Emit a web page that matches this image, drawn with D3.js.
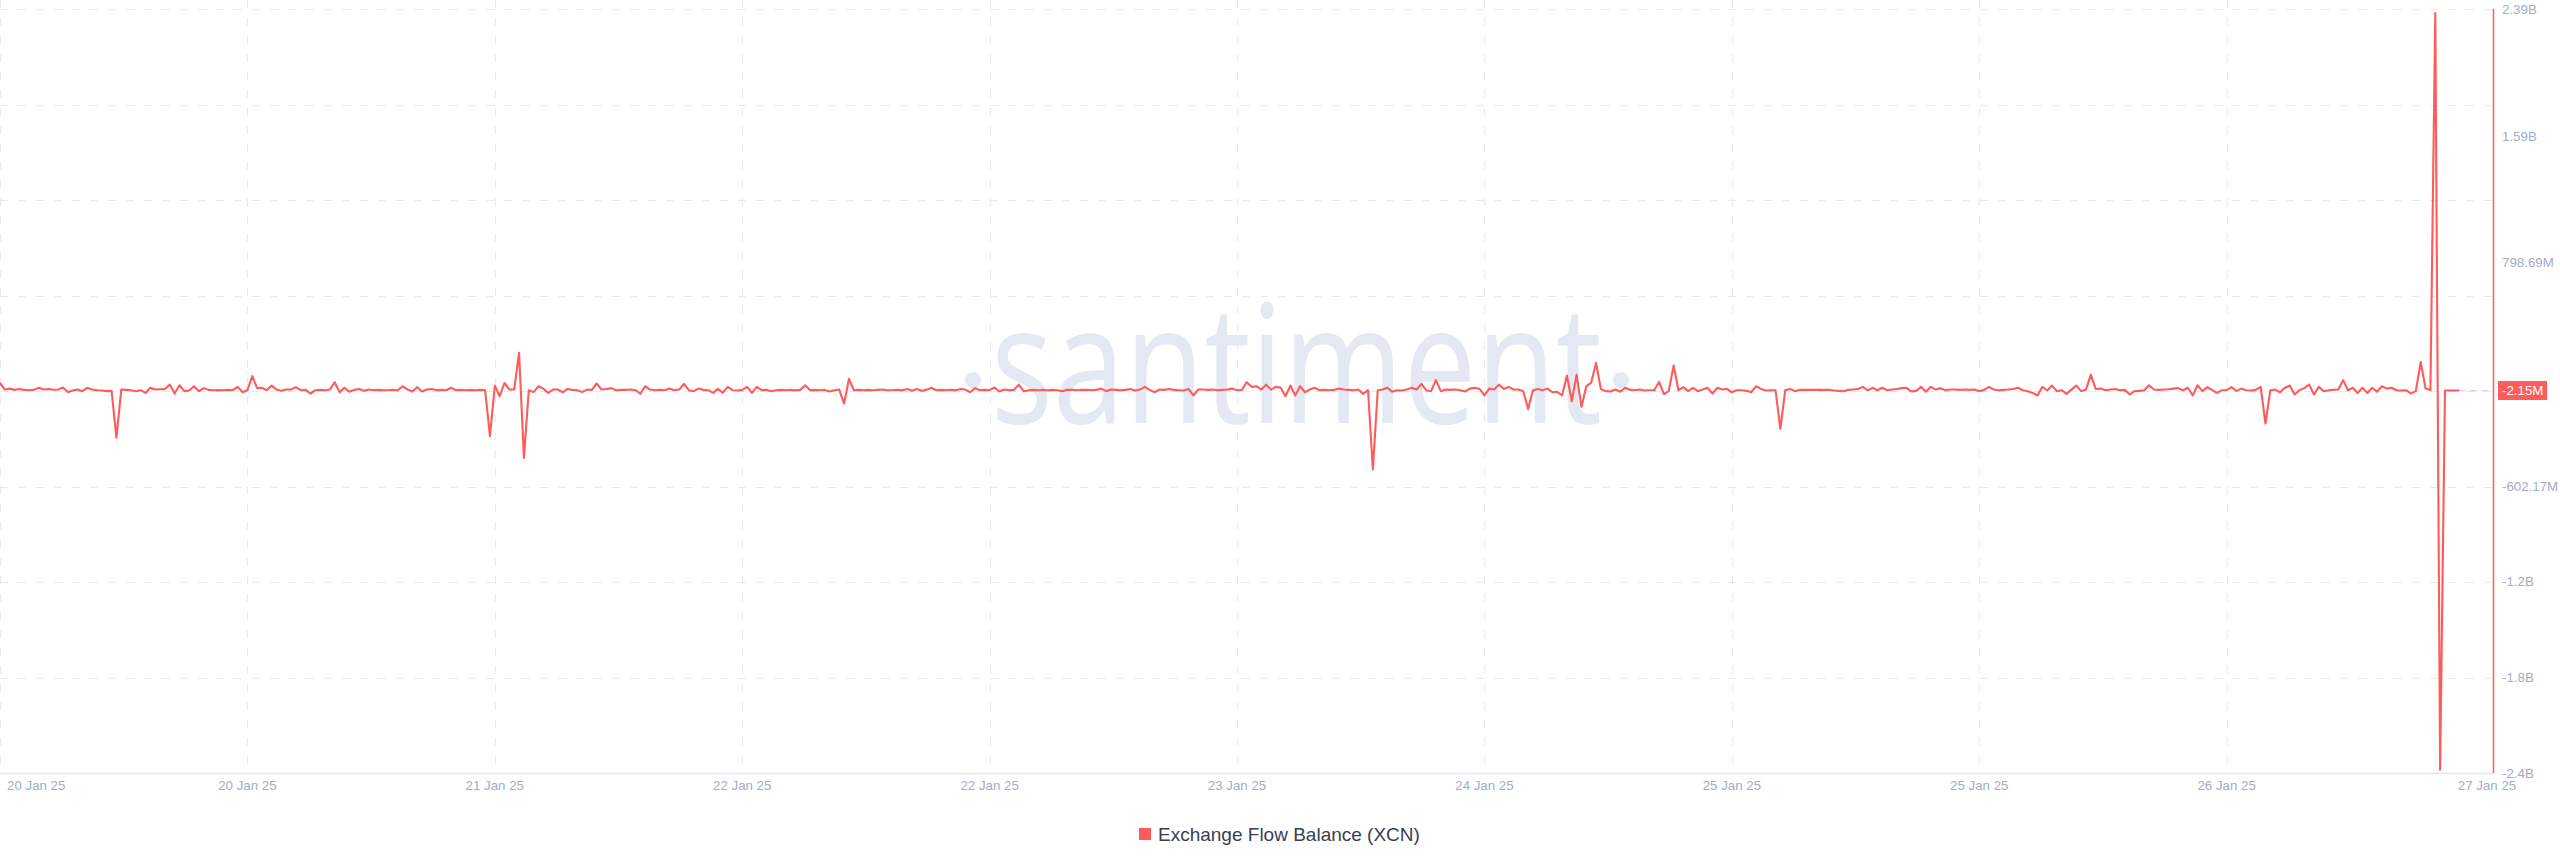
<!DOCTYPE html>
<html>
<head>
<meta charset="utf-8">
<script src="https://cdn.jsdelivr.net/npm/d3@7"></script>
<style>
  html, body { margin: 0; padding: 0; background: #fff; }
  #chart svg { display: block; }
</style>
</head>
<body>
<div id="chart"></div>
<script>
// ---- data ----

const seriesName = "Exchange Flow Balance (XCN)";
const startTime = "2025-01-20T02:00:00Z"; // first point
const stepMinutes = 20;                   // one point every 20 minutes
const endTime = "2025-01-27T05:18:00Z";   // right edge of the x axis

// exchange flow balance, in millions of XCN
const flowBalance = [
  46, 4, 10, 2, 8, 2, 0, 2, 15, 4,
  8, 3, 4, 17, -13, -2, 4, -6, 15, 4,
  0, -2, -6, -4, -297, 4, 2, 0, -6, 0,
  -17, 15, 4, 6, 8, 35, -21, 31, -6, -2,
  25, -6, 13, 2, 0, 1, 0, 2, 0, 21,
  -13, 0, 88, 13, 15, 0, 29, 4, -4, 4,
  4, 19, 0, 2, -21, 0, 2, 0, 4, 50,
  -13, 15, -10, 2, 8, -4, 4, 0, 2, 0,
  0, 2, 0, 25, 4, -8, 19, -8, 4, 8,
  0, 2, 0, 15, 0, 2, 0, 2, 0, 2,
  0, -288, 29, -38, 46, 4, 4, 234, -424, 0,
  -12, 25, 10, -17, 4, 4, -13, 8, 2, 0,
  -12, 4, 2, 42, 4, 8, 13, 0, 2, 2,
  4, 0, -21, 25, 4, 0, 2, 0, 10, 0,
  4, 40, 0, -6, 10, 2, 0, -17, 8, -17,
  21, 0, -2, 2, 21, -17, 21, 0, 2, -6,
  0, 2, 0, 2, 0, 2, 31, 0, 2, 0,
  2, -8, 0, 4, -84, 71, 0, 2, 0, 2,
  0, 2, 4, 0, 0, 2, 0, 8, -4, 8,
  -4, 2, 15, 0, 2, 0, 2, 0, 8, 4,
  -13, 13, 0, 2, 0, 17, -8, 4, 0, 2,
  35, -8, 0, 2, 0, 2, 0, 2, 0, -6,
  2, 2, 0, 2, 2, 0, 2, 10, -6, 4,
  2, 0, 2, 8, -2, 4, 21, 2, -13, 4,
  2, 8, 2, 0, -2, 8, -33, 4, 4, 2,
  4, 0, 2, 4, 10, 0, 2, 50, 21, 25,
  4, 35, 4, 21, 15, -38, 29, -33, 25, -13,
  4, 15, 0, 2, 0, 2, 10, 4, 2, 0,
  4, -23, 0, -497, 0, 4, 15, -10, 0, -2,
  4, 15, 4, 40, 0, -6, 63, -6, 4, 2,
  4, 0, -8, 10, 15, 8, -33, 10, 4, 35,
  8, 21, 4, 4, -6, -117, 0, 8, 0, 10,
  -13, -10, -33, 92, -69, 98, -105, 25, 46, 171,
  8, -6, -8, 4, -10, 15, 2, 0, 4, -2,
  0, 0, 52, -25, -6, 155, 0, 19, -6, 15,
  -6, 4, 15, -21, 15, 4, 8, -13, 0, 0,
  -4, -13, 25, 8, -2, 0, 0, -243, 0, 8,
  -6, 2, 2, 2, 2, 2, 2, 2, -2, -4,
  -6, 2, 4, 8, 21, -2, 15, 0, 15, 0,
  4, 8, 13, 15, -8, -4, 21, -10, 21, 4,
  13, 0, 4, 4, 2, 4, 2, 4, -6, 2,
  21, 4, 0, 2, 4, 8, 15, 0, -6, -17,
  -33, 21, -2, 29, -6, 0, -23, 4, 29, -6,
  4, 98, 8, 10, 0, 4, 8, 0, 2, -27,
  -6, -4, 0, 31, 4, 2, 4, 6, 10, 13,
  0, 15, -33, 31, -6, 19, 0, -17, 0, 0,
  19, -4, 10, 0, -2, 2, 21, -209, 0, 4,
  -13, 15, 29, -27, 0, 13, 35, -27, 21, -6,
  0, 2, 4, 63, 0, 15, -17, 15, -17, 15,
  -10, 25, 10, 15, 0, -2, 0, -21, -4, 177,
  10, 2, 2365, -2380, -2.15, -2.15, -2.15, -2.15
];

// x axis tick dates (the last label sits on the right edge)
const xTickDates = [
  "2025-01-20T02:00:00Z", "2025-01-20T19:00:00Z", "2025-01-21T12:00:00Z",
  "2025-01-22T05:00:00Z", "2025-01-22T22:00:00Z", "2025-01-23T15:00:00Z",
  "2025-01-24T08:00:00Z", "2025-01-25T01:00:00Z", "2025-01-25T18:00:00Z",
  "2025-01-26T11:00:00Z"
];
const xEndLabel = "27 Jan 25";

// y axis
const yMin = -2.4e9;
const yMax = 2.39e9;
const yTicks = [2.39e9, 1.59e9, 798.69e6, -602.17e6, -1.2e9, -1.8e9, -2.4e9];
const yTickLabels = ["2.39B", "1.59B", "798.69M", "-602.17M", "-1.2B", "-1.8B", "-2.4B"];
const lastValueLabel = "-2.15M";

// ---- chart settings ----

const width = 2560;
const height = 867;
const plot = { left: 0, right: 2493, top: 9, bottom: 773 };

const lineColor = "#ff5b5b";
const gridColor = "#e6e9f2";
const axisColor = "#e1e5ee";
const labelColor = "#a3acc6";
const legendColor = "#393e50";
const markColor = "#e3e8f2";   // watermark
const fontFamily = "'Liberation Sans', Arial, sans-serif";

// ---- scales ----

const parse = d3.isoParse;
const t0 = parse(startTime);
const points = flowBalance.map((v, i) => ({
  date: d3.utcMinute.offset(t0, i * stepMinutes),
  value: v * 1e6
}));

const x = d3.scaleUtc()
  .domain([t0, parse(endTime)])
  .range([plot.left, plot.right]);

const y = d3.scaleLinear()
  .domain([yMin, yMax])
  .range([plot.bottom, plot.top]);

const svg = d3.select("#chart").append("svg")
  .attr("width", width)
  .attr("height", height)
  .attr("viewBox", [0, 0, width, height]);

// ---- watermark ----

const mark = svg.append("g").attr("fill", markColor);
mark.append("text")
  .attr("x", 991)
  .attr("y", 423)
  .attr("font-family", "'Open Sans', sans-serif")
  .attr("font-size", 164)
  .attr("textLength", 611)
  .attr("lengthAdjust", "spacingAndGlyphs")
  .text("santiment");
mark.append("circle").attr("cx", 973).attr("cy", 380).attr("r", 8);
mark.append("circle").attr("cx", 1621).attr("cy", 380).attr("r", 8);

// ---- grid ----

const grid = svg.append("g")
  .attr("stroke", gridColor)
  .attr("stroke-width", 1.2)
  .attr("stroke-dasharray", "8,10");

// horizontal lines: 8 equal bands over the y domain
const gridValues = d3.range(8).map(k => yMax - k * (yMax - yMin) / 8);
grid.selectAll("line.h")
  .data(gridValues)
  .join("line")
    .attr("class", "h")
    .attr("x1", plot.left)
    .attr("x2", plot.right)
    .attr("y1", d => Math.round(y(d)) + 0.5)
    .attr("y2", d => Math.round(y(d)) + 0.5);

// vertical lines on the date ticks
grid.selectAll("line.v")
  .data(xTickDates.map(parse))
  .join("line")
    .attr("class", "v")
    .attr("x1", d => Math.round(x(d)) + 0.5)
    .attr("x2", d => Math.round(x(d)) + 0.5)
    .attr("y1", 0)
    .attr("y2", plot.bottom);

// bottom axis line
svg.append("line")
  .attr("x1", plot.left)
  .attr("x2", plot.right)
  .attr("y1", plot.bottom + 0.5)
  .attr("y2", plot.bottom + 0.5)
  .attr("stroke", axisColor)
  .attr("stroke-width", 1.5);

// ---- x axis labels ----

const fmt = d3.utcFormat("%d %b %y");
const xLabels = svg.append("g")
  .attr("font-family", fontFamily)
  .attr("font-size", 13.3)
  .attr("fill", labelColor);

xLabels.selectAll("text")
  .data(xTickDates.map(parse))
  .join("text")
    .attr("x", (d, i) => i === 0 ? 7 : x(d))
    .attr("y", plot.bottom + 17)
    .attr("text-anchor", (d, i) => i === 0 ? "start" : "middle")
    .text(d => fmt(d));

xLabels.append("text")
  .attr("x", plot.right - 6)
  .attr("y", plot.bottom + 17)
  .attr("text-anchor", "middle")
  .text(xEndLabel);

// ---- y axis (right side) ----

const yAxis = svg.append("g")
  .attr("font-family", fontFamily)
  .attr("font-size", 13.3)
  .attr("fill", labelColor);

yAxis.selectAll("text")
  .data(yTicks)
  .join("text")
    .attr("x", plot.right + 9)
    .attr("y", d => y(d))
    .attr("dy", "0.35em")
    .text((d, i) => yTickLabels[i]);

// ---- series line ----

const line = d3.line()
  .x(d => x(d.date))
  .y(d => y(d.value));

svg.append("path")
  .datum(points)
  .attr("fill", "none")
  .attr("stroke", lineColor)
  .attr("stroke-width", 2.1)
  .attr("stroke-linejoin", "round")
  .attr("d", line);

// right axis line in the series colour
svg.append("line")
  .attr("x1", plot.right + 0.5)
  .attr("x2", plot.right + 0.5)
  .attr("y1", plot.top)
  .attr("y2", plot.bottom)
  .attr("stroke", lineColor)
  .attr("stroke-width", 1.5);

// last value: dashed guide and badge
const last = points[points.length - 1];
svg.append("line")
  .attr("x1", x(last.date))
  .attr("x2", plot.right)
  .attr("y1", y(last.value))
  .attr("y2", y(last.value))
  .attr("stroke", "#c9d3ea")
  .attr("stroke-width", 1.2)
  .attr("stroke-dasharray", "6,5");

const badge = svg.append("g")
  .attr("transform", `translate(${plot.right + 5},${y(last.value)})`);
badge.append("rect")
  .attr("x", 0)
  .attr("y", -9.5)
  .attr("width", 49)
  .attr("height", 19)
  .attr("fill", lineColor);
badge.append("text")
  .attr("x", 4)
  .attr("dy", "0.35em")
  .attr("font-family", fontFamily)
  .attr("font-size", 13.3)
  .attr("fill", "#fff")
  .text(lastValueLabel);

// ---- legend ----

const legend = svg.append("g")
  .attr("transform", "translate(1139,834)");
legend.append("rect")
  .attr("x", 0)
  .attr("y", -6)
  .attr("width", 12)
  .attr("height", 12)
  .attr("fill", lineColor);
legend.append("text")
  .attr("x", 19)
  .attr("dy", "0.35em")
  .attr("font-family", fontFamily)
  .attr("font-size", 19)
  .attr("fill", legendColor)
  .text(seriesName);
</script>
</body>
</html>
